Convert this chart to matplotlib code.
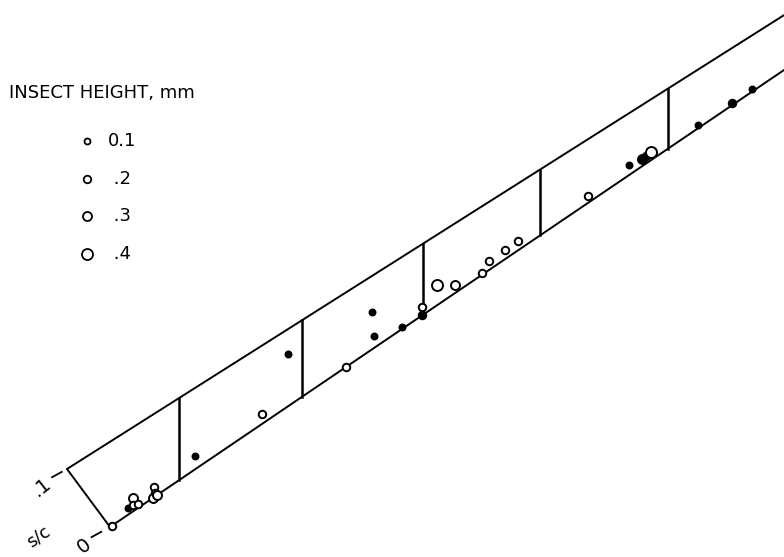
import numpy as np
import matplotlib.pyplot as plt

# impact points: station along span (arbitrary units), s/c, insect height (mm), looks filled in print
station = [0.25, 2.63, 3.37, 3.46, 4.11, 6.57, 6.68, 6.32, 7.02, 12.61, 22.55, 26.45,
           35.01, 38.8, 39.2, 43.37, 46.25, 46.34, 48.47, 51.19, 55.24, 56.28, 58.65,
           60.58, 70.97, 77.0, 78.89, 79.53, 80.27, 87.19, 92.33, 95.2]
s_c = [0.0, 0.008, 0.016, 0.007, 0.005, 0.012, 0.004, 0.0, 0.0, 0.016, 0.013, 0.067,
       0.0, 0.052, 0.016, 0.003, 0.012, 0.0, 0.029, 0.011, 0.002, 0.013, 0.014,
       0.014, 0.010, 0.017, 0.013, 0.012, 0.014, 0.006, 0.003, 0.006]
height = [0.2, 0.1, 0.3, 0.2, 0.2, 0.2, 0.2, 0.3, 0.3, 0.1, 0.2, 0.1,
          0.2, 0.1, 0.1, 0.1, 0.2, 0.2, 0.4, 0.3, 0.2, 0.2, 0.2,
          0.2, 0.2, 0.1, 0.3, 0.2, 0.4, 0.1, 0.2, 0.1]
filled = [0, 1, 0, 0, 0, 0, 0, 0, 0, 1, 0, 1,
          0, 1, 1, 1, 0, 1, 0, 0, 0, 0, 0,
          0, 0, 1, 1, 1, 0, 1, 1, 1]

dividers = [10.24, 28.5, 46.44, 63.8, 82.8]
legend_heights = [0.1, 0.2, 0.3, 0.4]
legend_labels = ["0.1", " .2", " .3", " .4"]
marker_px = {0.1: 6.0, 0.2: 7.5, 0.3: 9.0, 0.4: 11.0}

FONT = ['DejaVu Sans']

# drawing geometry (pixels): tapered strip, verticals stay vertical
X0, Y0 = 110.0, 527.0
PX_PER_STA = 6.74
LOW_SLOPE = -0.678
UP_X, UP_Y, UP_SLOPE = 67.0, 469.0, -0.633
SC_MAX = 0.1


def to_px(sta, sc):
    sta = np.asarray(sta, dtype=float)
    sc = np.asarray(sc, dtype=float)
    x = X0 + PX_PER_STA * sta
    lo = Y0 + LOW_SLOPE * (x - X0)
    up = UP_Y + UP_SLOPE * (x - UP_X)
    return x, lo + sc / SC_MAX * (up - lo)


fig = plt.figure(figsize=(7.84, 5.57), dpi=100)
ax = fig.add_axes([0, 0, 1, 1])
ax.set_xlim(0, 784)
ax.set_ylim(557, 0)
ax.axis('off')

line_kw = dict(color='black', lw=1.4, solid_capstyle='round')
corner_sta = (UP_X - X0) / PX_PER_STA

# strip edges
xs, ys = to_px([0, 110], [0, 0])
ax.plot(xs, ys, **line_kw)
xs, ys = to_px([corner_sta, 110], [SC_MAX, SC_MAX])
ax.plot(xs, ys, **line_kw)
xs, ys = to_px([0, corner_sta], [0, SC_MAX])
ax.plot(xs, ys, **line_kw)
for d in dividers:
    xs, ys = to_px([d, d], [0, SC_MAX])
    ax.plot(xs, ys, color='black', lw=1.8)

# s/c scale ticks on the left end
for sta0, sc0, lab, gap, lx, ly in [(0, 0, "0", 10, 84, 546), (corner_sta, SC_MAX, ".1", 6, 42, 487)]:
    cx, cy = to_px(sta0, sc0)
    ux, uy = -1 / np.hypot(1, 0.55), 0.55 / np.hypot(1, 0.55)
    ax.plot([cx + ux * gap, cx + ux * (gap + 11)], [cy + uy * gap, cy + uy * (gap + 11)],
            color='black', lw=1.3)
    ax.text(lx, ly, lab, rotation=38, ha='center', va='center', fontsize=14, family=FONT)
ax.text(38, 537, "s/c", rotation=35, ha='center', va='center', fontsize=12.5, family=FONT)

# impact points
px, py = to_px(station, s_c)
for x, y, h, f in zip(px, py, height, filled):
    ax.plot(x, y, 'o', ms=marker_px[h] * 0.72, mec='black', mew=1.4,
            mfc='black' if f else 'white')

# legend
ax.text(9, 93, "INSECT HEIGHT, mm", ha='left', va='center', fontsize=13, family=FONT)
for i, (h, lab) in enumerate(zip(legend_heights, legend_labels)):
    yy = 141 + i * 37.7
    ax.plot(87, yy, 'o', ms=marker_px[h] * 0.72, mec='black', mew=1.3, mfc='white')
    ax.text(108, yy, lab, ha='left', va='center', fontsize=13, family=FONT)

fig.savefig('out.png', dpi=100)
